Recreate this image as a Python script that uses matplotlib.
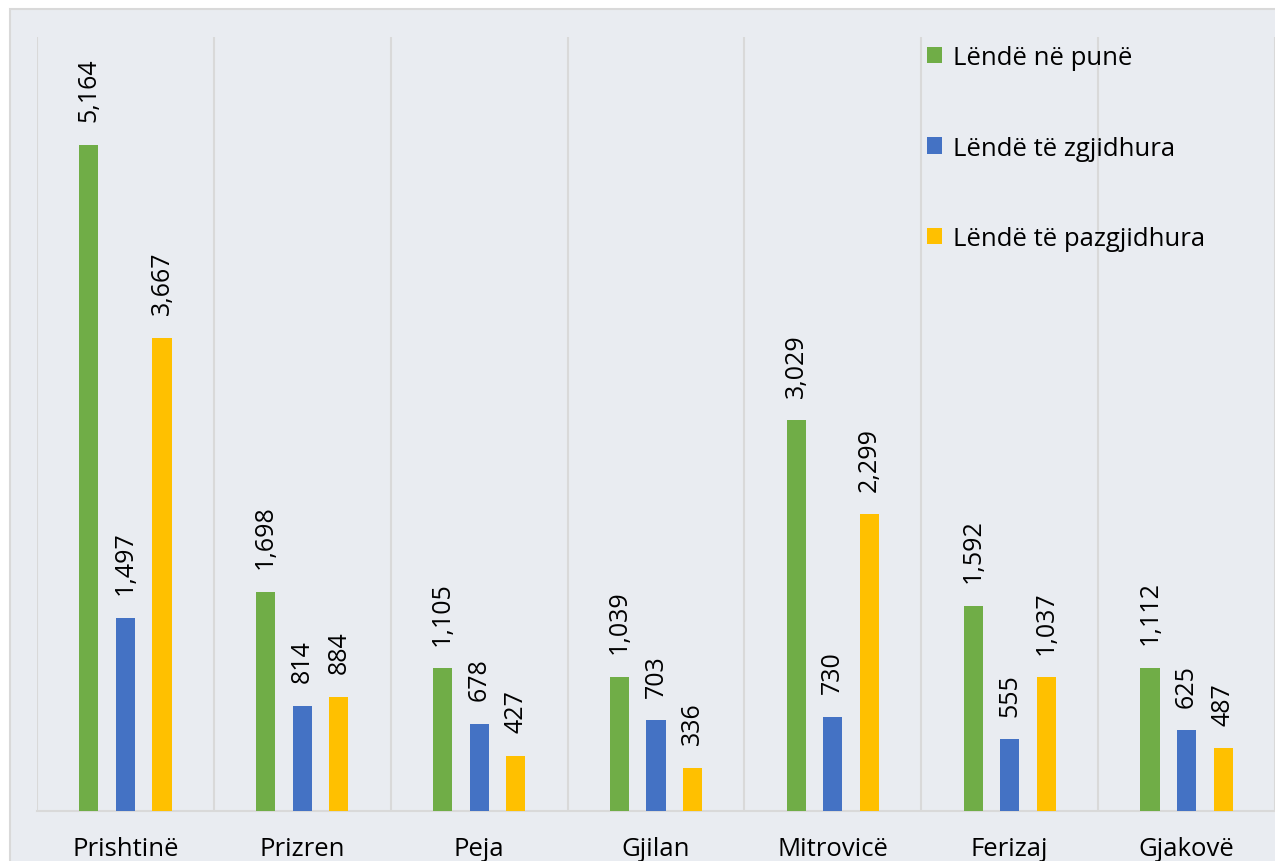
import matplotlib.pyplot as plt
from matplotlib.patches import Rectangle
import numpy as np

plt.rcParams['font.family'] = ['Open Sans', 'DejaVu Sans']

qytetet = ['Prishtinë', 'Prizren', 'Peja', 'Gjilan', 'Mitrovicë', 'Ferizaj', 'Gjakovë']
ne_pune = [5164, 1698, 1105, 1039, 3029, 1592, 1112]
te_zgjidhura = [1497, 814, 678, 703, 730, 555, 625]
te_pazgjidhura = [3667, 884, 427, 336, 2299, 1037, 487]

seri = [
    ('Lëndë në punë', ne_pune, '#70AD47'),
    ('Lëndë të zgjidhura', te_zgjidhura, '#4472C4'),
    ('Lëndë të pazgjidhura', te_pazgjidhura, '#FFC000'),
]

W, H = 1275, 862
fig = plt.figure(figsize=(W / 100, H / 100), dpi=100, facecolor='white')

# sfondi gri i grafikut
fig.patches.append(Rectangle((10 / W, -0.01), 1.0, 1.01 - 10 / H, transform=fig.transFigure,
                             facecolor='#E9ECF1', edgecolor='#D9D9D9', linewidth=1.5, zorder=-5))

ax = fig.add_axes([37 / W, 50 / H, 1 - 37 / W, (812 - 38) / H])
ax.set_facecolor('none')

x = np.arange(len(qytetet))
gjeresia = 0.108
zhvendosja = 0.207

for i, (emri, vlerat, ngjyra) in enumerate(seri):
    pos = x + (i - 1) * zhvendosja
    ax.bar(pos, vlerat, width=gjeresia, color=ngjyra, label=emri, zorder=3)
    for px, v in zip(pos, vlerat):
        ax.annotate(f'{v:,}', (px, v), xytext=(0, 17), textcoords='offset points',
                    rotation=90, ha='center', va='bottom', fontsize=18, color='#000000')

ax.set_xlim(-0.5, len(qytetet) - 0.5)
ax.set_ylim(0, 6000)
ax.set_yticks([])
ax.set_xticks(x)
ax.set_xticklabels(qytetet, fontsize=18.5)
ax.tick_params(axis='x', length=0, pad=18)

for b in np.arange(-0.5, len(qytetet), 1):
    ax.axvline(b, color='#D9D9D9', linewidth=1.5, zorder=1)

for s in ['top', 'right', 'left']:
    ax.spines[s].set_visible(False)
ax.spines['bottom'].set_color('#D9D9D9')
ax.spines['bottom'].set_linewidth(1.5)

ax.legend(loc='upper left', bbox_to_anchor=((927 - 37) / (W - 37), 1 - 8 / 774), frameon=False,
          fontsize=18.5, handlelength=0.6, handleheight=0.6, handletextpad=0.4,
          labelspacing=2.55, borderaxespad=0, borderpad=0)

plt.savefig('out.png', dpi=100, facecolor='white')
plt.close()
